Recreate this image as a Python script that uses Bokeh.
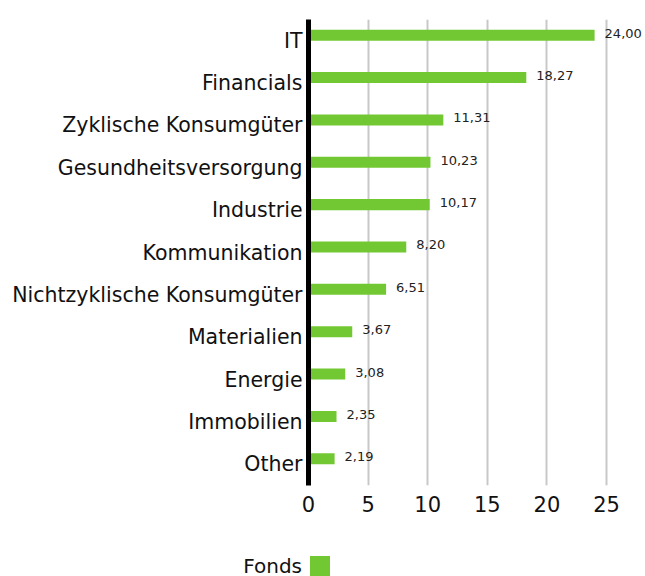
from bokeh.plotting import figure
from bokeh.models import ColumnDataSource, FactorRange, Range1d, LabelSet, Div
from bokeh.layouts import column
from bokeh.transform import dodge
from bokeh.core.properties import value
from bokeh.embed import file_html
from bokeh.resources import INLINE

categories = ["IT", "Financials", "Zyklische Konsumgüter", "Gesundheitsversorgung",
              "Industrie", "Kommunikation", "Nichtzyklische Konsumgüter", "Materialien",
              "Energie", "Immobilien", "Other"]
fonds = [24.00, 18.27, 11.31, 10.23, 10.17, 8.20, 6.51, 3.67, 3.08, 2.35, 2.19]
series_name = "Fonds"
x_ticks = [0, 5, 10, 15, 20, 25]

GREEN = "#72C832"
FONT = "DejaVu Sans"

labels = [f"{v:.2f}".replace(".", ",") for v in fonds]
src = ColumnDataSource(dict(cat=categories, val=fonds, lab=labels))

p = figure(width=645, height=536, output_backend="svg", toolbar_location=None,
           y_range=FactorRange(*reversed(categories), range_padding=0),
           x_range=Range1d(0, 28.27),
           min_border_left=308, min_border_right=0, min_border_top=19, min_border_bottom=51)
p.outline_line_color = None
p.background_fill_color = "white"

bars = p.hbar(y=dodge("cat", 0.13, range=p.y_range), right="val", left=0, height=0.26,
              source=src, color=GREEN, line_color=None)
vals = LabelSet(x="val", y=dodge("cat", 0.13, range=p.y_range), text="lab", source=src,
                x_offset=10, y_offset=2, text_baseline="middle", text_align="left",
                text_font=value(FONT), text_font_size=value("13px"), text_color=value("#222222"))
p.add_layout(vals)

p.xgrid.grid_line_color = "#c8c8c8"
p.xgrid.grid_line_width = 2
p.ygrid.grid_line_color = None
p.xaxis.ticker = x_ticks
p.xaxis.axis_line_color = None
p.xaxis.major_tick_line_color = None
p.xaxis.minor_tick_line_color = None
p.xaxis.major_label_text_font = FONT
p.xaxis.major_label_text_font_size = "21px"
p.xaxis.major_label_text_color = "#111111"
p.xaxis.major_label_standoff = 4

p.yaxis.axis_line_color = "black"
p.yaxis.axis_line_width = 5
p.yaxis.major_tick_line_color = None
p.yaxis.minor_tick_line_color = None
p.yaxis.major_label_text_font = FONT
p.yaxis.major_label_text_font_size = "20.5px"
p.yaxis.major_label_text_color = "#111111"
p.yaxis.major_label_standoff = 0

# legend strip: series name followed by its colour swatch
legend_html = (
    '<div style="position:relative;width:645px;height:40px;overflow:hidden;'
    f'font-family:\'{FONT}\';font-size:20px;color:#111111;">'
    f'<span style="position:absolute;right:343px;top:22px;line-height:16px;">{series_name}</span>'
    f'<span style="position:absolute;left:310px;top:20px;width:20px;height:20px;background:{GREEN};"></span>'
    '</div>'
)
legend = Div(text=legend_html, width=645, height=40, margin=0)

layout = column(p, legend, spacing=0)
open("out.html", "w").write(file_html(layout, INLINE))
